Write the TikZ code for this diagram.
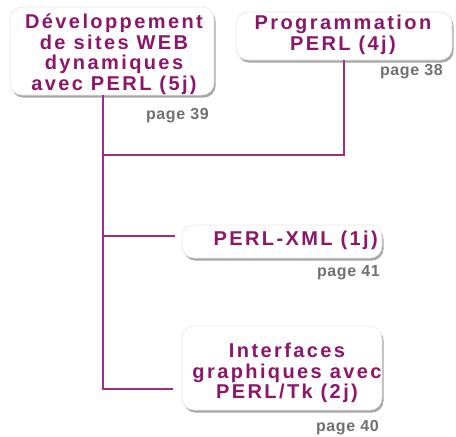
\documentclass[tikz,border=0pt]{standalone}
\usepackage{fontspec}
\newfontfamily\boxfont[LetterSpace=12]{Liberation Sans}
\newfontfamily\pagefont[LetterSpace=4]{Liberation Sans}
\usetikzlibrary{shadows}
\definecolor{plum}{RGB}{140,22,106}
\definecolor{plumline}{RGB}{160,45,128}
\definecolor{pagegray}{RGB}{112,112,112}
\tikzset{
  card/.style={rectangle, rounded corners=12pt, fill=white, draw=gray!18, line width=0.6pt,
    drop shadow={shadow xshift=1.6pt, shadow yshift=-2.6pt, fill=gray!70, opacity=1}},
  title/.style={font=\boxfont\bfseries\fontsize{20}{20.5}\selectfont, text=plum, align=center, inner sep=0pt},
  pagelbl/.style={font=\pagefont\bfseries\fontsize{16}{17}\selectfont, text=pagegray, inner sep=0pt, anchor=base east},
  link/.style={draw=plumline, line width=1.2pt}
}
\begin{document}
\begin{tikzpicture}[x=1pt,y=-1pt]
\useasboundingbox (0,0) rectangle (456,437);
% cards
\node[card, minimum width=204pt, minimum height=88pt] (b1) at (112,51) {};
\node[card, minimum width=216pt, minimum height=48pt] (b2) at (344,36) {};
\node[card, minimum width=200pt, minimum height=33pt] (b3) at (282,241.5) {};
\node[card, minimum width=200pt, minimum height=84pt] (b4) at (282,368) {};
% titles
\node[title] (t1) at (114,54) {Développement\\de sites WEB\\dynamiques\\avec PERL (5j)};
\node[title] (t2) at (343,35) {Programmation\\PERL (4j)};
\node[title, anchor=base east] (t3) at (378,245) {PERL-XML (1j)};
\node[title] (t4) at (287,373) {Interfaces\\graphiques avec\\PERL/Tk (2j)};
% page labels
\node[pagelbl] (p1) at (209,119) {page 39};
\node[pagelbl] (p2) at (443,75) {page 38};
\node[pagelbl] (p3) at (380,276) {page 41};
\node[pagelbl] (p4) at (379,431) {page 40};
% connectors
\coordinate (j) at (103,155);
\coordinate (e3) at (175,236);
\coordinate (e4) at (173,389);
\draw[link] (b2.south) -- (b2.south |- j) -- (j);
\draw[link] (b1.south -| j) -- (j |- e4) -- (e4);
\draw[link] (j |- e3) -- (e3);
\end{tikzpicture}
\end{document}
